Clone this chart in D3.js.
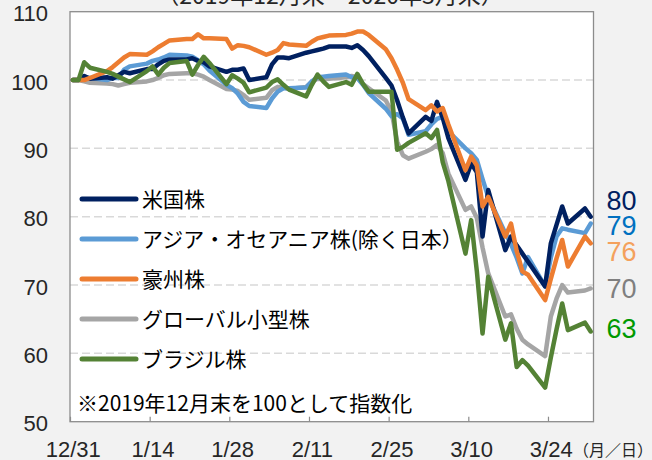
<!DOCTYPE html>
<html>
<head>
<meta charset="utf-8">
<script src="https://cdn.jsdelivr.net/npm/d3@7"></script>
<style>
  body { margin: 0; background: #f2f2f2; }
  svg { display: block; }
</style>
</head>
<body>
<script>
// trading days (weekdays) 2019/12/31 - 2020/3/31
var dates = [
  "2019-12-31", "2020-01-01", "2020-01-02", "2020-01-03",
  "2020-01-06", "2020-01-07", "2020-01-08", "2020-01-09", "2020-01-10",
  "2020-01-13", "2020-01-14", "2020-01-15", "2020-01-16", "2020-01-17",
  "2020-01-20", "2020-01-21", "2020-01-22", "2020-01-23", "2020-01-24",
  "2020-01-27", "2020-01-28", "2020-01-29", "2020-01-30", "2020-01-31",
  "2020-02-03", "2020-02-04", "2020-02-05", "2020-02-06", "2020-02-07",
  "2020-02-10", "2020-02-11", "2020-02-12", "2020-02-13", "2020-02-14",
  "2020-02-17", "2020-02-18", "2020-02-19", "2020-02-20", "2020-02-21",
  "2020-02-24", "2020-02-25", "2020-02-26", "2020-02-27", "2020-02-28",
  "2020-03-02", "2020-03-03", "2020-03-04", "2020-03-05", "2020-03-06",
  "2020-03-09", "2020-03-10", "2020-03-11", "2020-03-12", "2020-03-13",
  "2020-03-16", "2020-03-17", "2020-03-18", "2020-03-19", "2020-03-20",
  "2020-03-23", "2020-03-24", "2020-03-25", "2020-03-26", "2020-03-27",
  "2020-03-30", "2020-03-31"
];

var tickDates = ["2019-12-31", "2020-01-14", "2020-01-28", "2020-02-11", "2020-02-25", "2020-03-10", "2020-03-24"];
var tickLabels = ["12/31", "1/14", "1/28", "2/11", "2/25", "3/10", "3/24"];
var yTicks = [50, 60, 70, 80, 90, 100, 110];

var usStock = [
  100, 100, 100.6, 100.2,
  100.4, 100.2, 100.7, 101.2, 101.0,
  101.6, 101.6, 102.3, 102.8, 103.0,
  103.0, 103.2, 102.8, 102.6, 102.0,
  101.2, 101.5, 101.5, 101.7, 100.0,
  100.4, 102.3, 103.3, 103.3, 103.2,
  104.0, 104.2, 104.4, 104.6, 104.9,
  104.9, 104.7, 105.1, 104.4, 103.5,
  100.3, 99.2, 97.0, 94.5, 92.2,
  94.6, 94.0, 96.8, 94.5, 91.5,
  85.4, 87.8, 86.5, 77.1, 83.9,
  75.1, 77.1, 75.8, 74.6, 73.4,
  69.8, 76.1, 78.8, 81.5, 79.0,
  81.2, 80.0
];

var asiaStock = [
  100, 100, 100.4, 100.3,
  100.0, 100.3, 100.3, 101.5, 102.0,
  102.4, 102.8, 103.0, 103.3, 103.7,
  103.6, 103.4, 102.9, 102.3, 101.4,
  99.3, 98.8, 98.0, 96.8, 96.2,
  95.9, 97.3, 98.3, 98.8, 98.8,
  98.9, 99.8, 100.4, 100.5, 100.6,
  100.8, 100.4, 100.3, 99.3, 98.1,
  95.8, 94.7, 95.0, 94.4, 92.0,
  92.5, 93.5, 94.3, 94.6, 92.5,
  90.0, 89.3, 88.3, 85.5, 82.9,
  77.6, 76.0, 74.0, 71.7, 74.1,
  69.8, 74.0, 77.1, 78.3, 78.1,
  77.6, 79.0
];

var ausStock = [
  100, 100, 100.0, 100.3,
  101.3, 101.9, 102.6, 103.3, 103.8,
  103.7, 104.2, 104.8, 105.3, 105.8,
  106.0, 106.0, 106.7, 106.1, 106.1,
  106.0, 104.6, 105.1, 105.0, 104.8,
  103.7, 104.0, 104.4, 105.4, 105.2,
  105.0, 105.6, 106.1, 106.3, 106.5,
  106.6, 106.8, 107.1, 107.1, 106.6,
  104.5, 103.2, 101.5, 99.6, 97.2,
  95.6, 96.3, 95.4, 95.9, 93.5,
  86.8, 88.8, 87.5, 81.5, 82.9,
  77.1, 79.0, 75.0, 72.0, 71.5,
  67.8, 70.9, 73.9, 76.6, 72.7,
  77.1, 76.1
];

var smallCapStock = [
  100, 100, 99.8, 99.6,
  99.5, 99.4, 99.2, 99.4, 99.6,
  99.8, 100.0, 100.3, 100.7, 100.9,
  101.0, 101.0, 100.8, 100.5, 100.0,
  98.7, 98.6, 98.4, 97.8, 97.1,
  97.4, 98.5, 99.0, 98.9, 98.7,
  99.0, 99.7, 100.2, 100.1, 100.2,
  100.4, 100.6, 100.4, 99.4, 98.8,
  97.0, 95.4, 91.0, 89.0, 88.5,
  89.5, 89.9, 90.5, 89.3, 86.3,
  81.0, 81.5, 79.8, 75.5, 71.7,
  65.4, 65.7, 63.6, 62.0, 61.3,
  59.6, 65.4, 68.0, 70.0, 68.9,
  69.2, 69.5
];

var brazilStock = [
  100, 100, 102.6, 101.8,
  101.2, 100.9, 100.5, 100.1, 99.7,
  101.3, 102.0, 100.8, 101.8, 102.5,
  102.8, 100.8, 102.2, 103.4, 102.5,
  99.4, 100.7, 100.2, 99.6, 98.2,
  98.9, 99.7, 100.1, 99.3, 98.6,
  97.6, 99.3, 100.8, 99.8, 99.0,
  99.7, 99.3, 100.9, 99.4, 98.3,
  98.3, 98.3, 89.8, 90.2, 90.8,
  92.2, 91.5, 92.7, 88.0, 85.2,
  74.6, 79.5, 72.0, 62.9, 71.2,
  62.0, 64.4, 58.0, 59.0, 58.2,
  55.0, 59.4, 63.5, 67.3, 63.4,
  64.5, 63.2
];

var seriesNames = ["米国株", "アジア・オセアニア株(除く日本）", "豪州株", "グローバル小型株", "ブラジル株"];
var seriesColors = ["#002060", "#5b9bd5", "#ed7d31", "#a5a5a5", "#548235"];
var endLabels = ["80", "79", "76", "70", "63"];
var endColors = ["#002060", "#0070c0", "#f4a15d", "#7f7f7f", "#009900"];

var allSeries = [usStock, asiaStock, ausStock, smallCapStock, brazilStock];
var drawOrder = [3, 1, 0, 2, 4]; // gray at the back, green on top

var parse = d3.timeParse("%Y-%m-%d");
var W = 652, H = 460;
var pLeft = 70, pRight = 593.5, pTop = 11.7, pBottom = 421.7;

var svg = d3.select("body").append("svg").attr("width", W).attr("height", H);

// date axis: each day is a slot, points sit in the middle of their day
var x = d3.scaleTime()
  .domain([parse("2019-12-31"), parse("2020-04-01")])
  .range([pLeft, pRight]);
var y = d3.scaleLinear().domain([50, 110]).range([pBottom, pTop]);

function mid(d) { return d3.timeHour.offset(parse(d), 12); }

// title, cut off at the top
svg.append("text")
  .attr("x", 330).attr("y", 4)
  .attr("text-anchor", "middle")
  .attr("font-family", "'Noto Sans CJK JP', sans-serif")
  .attr("font-size", 23)
  .attr("fill", "#262626")
  .text("（2019年12月末～2020年3月末）");

// plot area
svg.append("rect")
  .attr("x", pLeft).attr("y", pTop)
  .attr("width", pRight - pLeft).attr("height", pBottom - pTop)
  .attr("fill", "#fff");

// gridlines
svg.append("g").selectAll("line")
  .data(yTicks.filter(function(v) { return v > 50 && v < 110; }))
  .enter().append("line")
  .attr("x1", pLeft).attr("x2", pRight)
  .attr("y1", function(d) { return y(d); })
  .attr("y2", function(d) { return y(d); })
  .attr("stroke", "#d9d9d9")
  .attr("stroke-width", 1.5)
  .attr("stroke-dasharray", "8,4");

// x axis ticks (inside) + labels
var xAxis = d3.axisBottom(x)
  .tickValues(tickDates.map(parse))
  .tickSizeInner(-5).tickSizeOuter(0)
  .tickFormat(function(d, i) { return tickLabels[i]; });

var gx = svg.append("g").attr("transform", "translate(0," + pBottom + ")").call(xAxis);
gx.select(".domain").remove();
gx.selectAll(".tick line").attr("stroke", "#8c8c8c").attr("stroke-width", 1.2);
gx.selectAll(".tick text")
  .attr("font-family", "'Liberation Sans', Arial, sans-serif")
  .attr("font-size", 22)
  .attr("fill", "#262626")
  .attr("dx", 2.8)
  .attr("y", 35).attr("dy", 0);

svg.append("text")
  .attr("x", 573).attr("y", 456)
  .attr("font-family", "'Noto Sans CJK JP', sans-serif")
  .attr("font-size", 16)
  .attr("fill", "#262626")
  .text("（月／日）");

// y axis labels
var yAxis = d3.axisLeft(y).tickValues(yTicks).tickSize(0).tickPadding(22);
var gy = svg.append("g").attr("transform", "translate(" + pLeft + ",0)").call(yAxis);
gy.select(".domain").remove();
gy.selectAll(".tick text")
  .attr("font-family", "'Liberation Sans', Arial, sans-serif")
  .attr("font-size", 22)
  .attr("fill", "#262626")
  .attr("dy", "0.42em");

// frame
svg.append("rect")
  .attr("x", pLeft).attr("y", pTop)
  .attr("width", pRight - pLeft).attr("height", pBottom - pTop)
  .attr("fill", "none")
  .attr("stroke", "#8c8c8c")
  .attr("stroke-width", 1.3);

// lines
var line = d3.line()
  .x(function(d, i) { return x(mid(dates[i])); })
  .y(function(d) { return y(d); });

drawOrder.forEach(function(k) {
  svg.append("path")
    .datum(allSeries[k])
    .attr("d", line)
    .attr("fill", "none")
    .attr("stroke", seriesColors[k])
    .attr("stroke-width", 4.5)
    .attr("stroke-linejoin", "round")
    .attr("stroke-linecap", "round");
});

// legend
seriesNames.forEach(function(name, i) {
  var ly = 199 + i * 40;
  svg.append("line")
    .attr("x1", 82).attr("x2", 136)
    .attr("y1", ly).attr("y2", ly)
    .attr("stroke", seriesColors[i])
    .attr("stroke-width", 5)
    .attr("stroke-linecap", "round");
  svg.append("text")
    .attr("x", 142).attr("y", ly + 8)
    .attr("font-family", "'Noto Sans CJK JP', sans-serif")
    .attr("font-size", 21)
    .attr("fill", "#000")
    .text(name);
});

svg.append("text")
  .attr("x", 77).attr("y", 411)
  .attr("font-family", "'Noto Sans CJK JP', sans-serif")
  .attr("font-size", 21)
  .attr("fill", "#000")
  .text("※2019年12月末を100として指数化");

// values at the right edge
var endY = [210, 235, 261, 298, 338];
endLabels.forEach(function(t, i) {
  svg.append("text")
    .attr("x", 606.5).attr("y", endY[i])
    .attr("font-family", "'Liberation Sans', Arial, sans-serif")
    .attr("font-size", 27)
    .attr("fill", endColors[i])
    .text(t);
});
</script>
</body>
</html>
